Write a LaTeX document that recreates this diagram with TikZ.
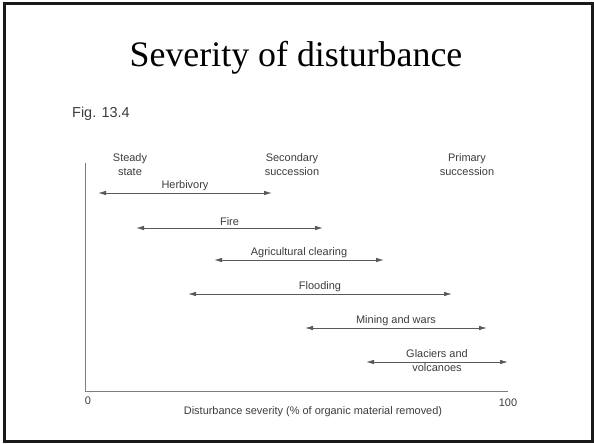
\documentclass[tikz,border=0pt]{standalone}
\usepackage{fontspec}
\setmainfont{Liberation Serif}
\setsansfont{Liberation Sans}
\usetikzlibrary{arrows.meta}
\definecolor{axisgray}{RGB}{125,125,125}
\definecolor{inkgray}{RGB}{60,60,60}
\tikzset{
  spanline/.style={draw=inkgray!85, line width=0.8pt,
    {Latex[length=8bp,width=4.5bp]}-{Latex[length=8bp,width=4.5bp]}},
  spanlabel/.style={font=\sffamily\fontsize{11}{13}\selectfont, text=inkgray, inner sep=1.5bp},
  stagelabel/.style={font=\sffamily\fontsize{11}{14}\selectfont, text=inkgray, align=center},
}
\newcommand{\spanarrow}[5]{% name, y, from, to, label
  \coordinate (#1-l) at (#3,#2);
  \coordinate (#1-r) at (#4,#2);
  \draw[spanline] (#1-l) -- (#1-r) node[midway, above, spanlabel] (#1) {#5};}

\begin{document}
\begin{tikzpicture}[x=1bp, y=-1bp]
  \useasboundingbox (0,0) rectangle (594,444);
  \draw[line width=3bp, black!90] (4.7,3.3) rectangle (592.3,441.7);
  \node[anchor=base] (title) at (296,67) {\fontsize{36}{40}\selectfont Severity of disturbance};
  \node[anchor=base west, inner sep=0pt, font=\sffamily\fontsize{14.5}{16}\selectfont, text=inkgray] (fig) at (72,118) {Fig. 13.4};
  % axes
  \coordinate (top) at (85,163);
  \coordinate (origin) at (85,391);
  \coordinate (end) at (508,391);
  \draw[axisgray, line width=0.9pt] (top) -- (origin) -- (end);
  \node[spanlabel] (zero) at (88,401) {0};
  \node[spanlabel] (hundred) at (508,403) {100};
  \node[spanlabel] (xlabel) at (313,412) {Disturbance severity (\% of organic material removed)};
  % stages
  \node[stagelabel] (steady) at (130,165) {Steady\\state};
  \node[stagelabel] (secondary) at (292,165) {Secondary\\succession};
  \node[stagelabel] (primary) at (467,165) {Primary\\succession};
  % ranges
  \spanarrow{herbivory}{193}{98}{272}{Herbivory}
  \spanarrow{fire}{228}{136}{323}{Fire}
  \spanarrow{clearing}{260}{214}{384}{Agricultural clearing}
  \spanarrow{flooding}{294}{188}{452}{Flooding}
  \spanarrow{mining}{328}{305}{487}{Mining and wars}
  \coordinate (glacier-l) at (366,362);
  \coordinate (glacier-r) at (508,362);
  \draw[spanline] (glacier-l) -- (glacier-r);
  \node[stagelabel] (glacier) at (437,361) {Glaciers and\\volcanoes};
\end{tikzpicture}
\end{document}
